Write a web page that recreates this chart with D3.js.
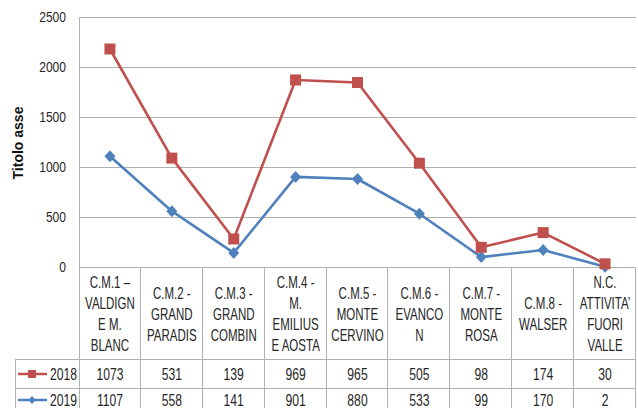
<!DOCTYPE html>
<html>
<head>
<meta charset="utf-8">
<script src="https://cdn.jsdelivr.net/npm/d3@7"></script>
<style>
    body { margin: 0; background: #fff; }
    svg { display: block; }
    .cond { font-family: "Liberation Sans", Arial, sans-serif; fill: #262626; }
</style>
</head>
<body>
<div id="chart"></div>
<script>
// Categories (header lines as shown in the data table)
const categories = ["CM1", "CM2", "CM3", "CM4", "CM5", "CM6", "CM7", "CM8", "NC"];
const categoryLines = [
    ["C.M.1 \u2013", "VALDIGN", "E M.", "BLANC"],
    ["C.M.2 -", "GRAND", "PARADIS"],
    ["C.M.3 -", "GRAND", "COMBIN"],
    ["C.M.4 -", "M.", "EMILIUS", "E AOSTA"],
    ["C.M.5 -", "MONTE", "CERVINO"],
    ["C.M.6 -", "EVANCO", "N"],
    ["C.M.7 -", "MONTE", "ROSA"],
    ["C.M.8 -", "WALSER"],
    ["N.C.", "ATTIVITA\u2019", "FUORI", "VALLE"]
];
const values2018 = [1073, 531, 139, 969, 965, 505, 98, 174, 30];
const values2019 = [1107, 558, 141, 901, 880, 533, 99, 170, 2];
const yTicks = [0, 500, 1000, 1500, 2000, 2500];
const seriesNames = ["2018", "2019"];

// Layout
const W = 638, H = 408;
const plot = { left: 79, right: 636, top: 17, bottom: 267 };
const table = { left: 15, headerBottom: 359, row1Bottom: 388, row2Bottom: 417 };
const colors = { "2018": "#C0504D", "2019": "#4F81BD" };
const gridColor = "#b0b0b0";

const svg = d3.select("#chart").append("svg")
    .attr("width", W)
    .attr("height", H);

const x = d3.scaleBand()
    .domain(categories)
    .range([plot.left, plot.right]);

const y = d3.scaleLinear()
    .domain([0, 2500])
    .range([plot.bottom, plot.top]);

// Stacked line: 2019 on the bottom, 2018 on top
const rows = categories.map((c, i) => ({ cat: c, "2018": values2018[i], "2019": values2019[i] }));
const stacked = d3.stack().keys(["2019", "2018"])(rows);

// text squeezed horizontally, to look like the narrow office font
function condText(g, tx, ty, str, size, sx, anchor) {
    return g.append("g")
        .attr("transform", `translate(${tx},${ty}) scale(${sx},1)`)
        .append("text")
        .attr("class", "cond")
        .attr("text-anchor", anchor || "middle")
        .attr("dy", "0.36em")
        .style("font-size", size + "px")
        .text(str);
}

// Gridlines
svg.append("g")
    .selectAll("line")
    .data(yTicks)
    .enter()
    .append("line")
    .attr("x1", plot.left)
    .attr("x2", plot.right)
    .attr("y1", d => Math.round(y(d)) + 0.5)
    .attr("y2", d => Math.round(y(d)) + 0.5)
    .attr("stroke", gridColor);

// Y tick labels
const yLab = svg.append("g");
yTicks.forEach(t => condText(yLab, plot.left - 13, y(t), d3.format("d")(t), 14, 0.86, "end"));

// Axis title
svg.append("text")
    .attr("transform", `translate(23,143) rotate(-90)`)
    .attr("text-anchor", "middle")
    .style("font-family", "'Liberation Sans', Arial, sans-serif")
    .style("font-weight", "bold")
    .style("font-size", "14px")
    .attr("fill", "#111")
    .text("Titolo asse");

// Left vertical axis line, and table grid
const grid = svg.append("g").attr("stroke", gridColor).attr("shape-rendering", "crispEdges");
grid.append("line")
    .attr("x1", plot.left + 0.5).attr("x2", plot.left + 0.5)
    .attr("y1", plot.top).attr("y2", table.row2Bottom);

// Column dividers in the data table
const edges = categories.map(c => x(c) + x.bandwidth());
grid.selectAll(".col")
    .data(edges)
    .enter()
    .append("line")
    .attr("x1", d => Math.round(d) - 0.5)
    .attr("x2", d => Math.round(d) - 0.5)
    .attr("y1", plot.bottom)
    .attr("y2", table.row2Bottom);

// Row separators
[table.headerBottom, table.row1Bottom].forEach(ry => {
    grid.append("line")
        .attr("x1", table.left).attr("x2", plot.right)
        .attr("y1", ry + 0.5).attr("y2", ry + 0.5);
});
grid.append("line")
    .attr("x1", table.left + 0.5).attr("x2", table.left + 0.5)
    .attr("y1", table.headerBottom).attr("y2", table.row2Bottom);

// Header labels
const headerMid = (plot.bottom + table.headerBottom) / 2 + 1;
const lineH = 21;
const header = svg.append("g");
categories.forEach((c, i) => {
    const lines = categoryLines[i];
    lines.forEach((ln, j) => {
        condText(header, x(c) + x.bandwidth() / 2,
            headerMid + (j - (lines.length - 1) / 2) * lineH, ln, 16, 0.72);
    });
});

// Data rows
const rowMid = [374, 400];
const rowValues = [values2018, values2019];
seriesNames.forEach((name, r) => {
    const g = svg.append("g");
    rowValues[r].forEach((v, i) => {
        condText(g, x(categories[i]) + x.bandwidth() / 2, rowMid[r], v, 16, 0.76);
    });

    // Legend key
    const ly = rowMid[r];
    g.append("line")
        .attr("x1", 18).attr("x2", 47)
        .attr("y1", ly).attr("y2", ly)
        .attr("stroke", colors[name])
        .attr("stroke-width", 2.5);
    drawMarker(g, name, 32, ly, name === "2018" ? 8 : 7);
    condText(g, 77, ly, name, 16, 0.76, "end");
});

function drawMarker(g, name, cx, cy, size) {
    if (name === "2018") {
        g.append("rect")
            .attr("x", cx - size / 2).attr("y", cy - size / 2)
            .attr("width", size).attr("height", size)
            .attr("fill", colors[name]);
    } else {
        const h = size / 2;
        g.append("path")
            .attr("d", `M${cx},${cy - h - 0.5}L${cx + h},${cy}L${cx},${cy + h + 0.5}L${cx - h},${cy}Z`)
            .attr("fill", colors[name]);
    }
}

// Lines and markers
const line = d3.line()
    .x(d => x(d.data.cat) + x.bandwidth() / 2)
    .y(d => y(d[1]));

stacked.forEach(s => {
    svg.append("path")
        .datum(s)
        .attr("fill", "none")
        .attr("stroke", colors[s.key])
        .attr("stroke-width", 2.6)
        .attr("stroke-linejoin", "round")
        .attr("d", line);
});
stacked.forEach(s => {
    s.forEach(d => {
        drawMarker(svg, s.key, x(d.data.cat) + x.bandwidth() / 2, y(d[1]), 11);
    });
});
</script>
</body>
</html>
